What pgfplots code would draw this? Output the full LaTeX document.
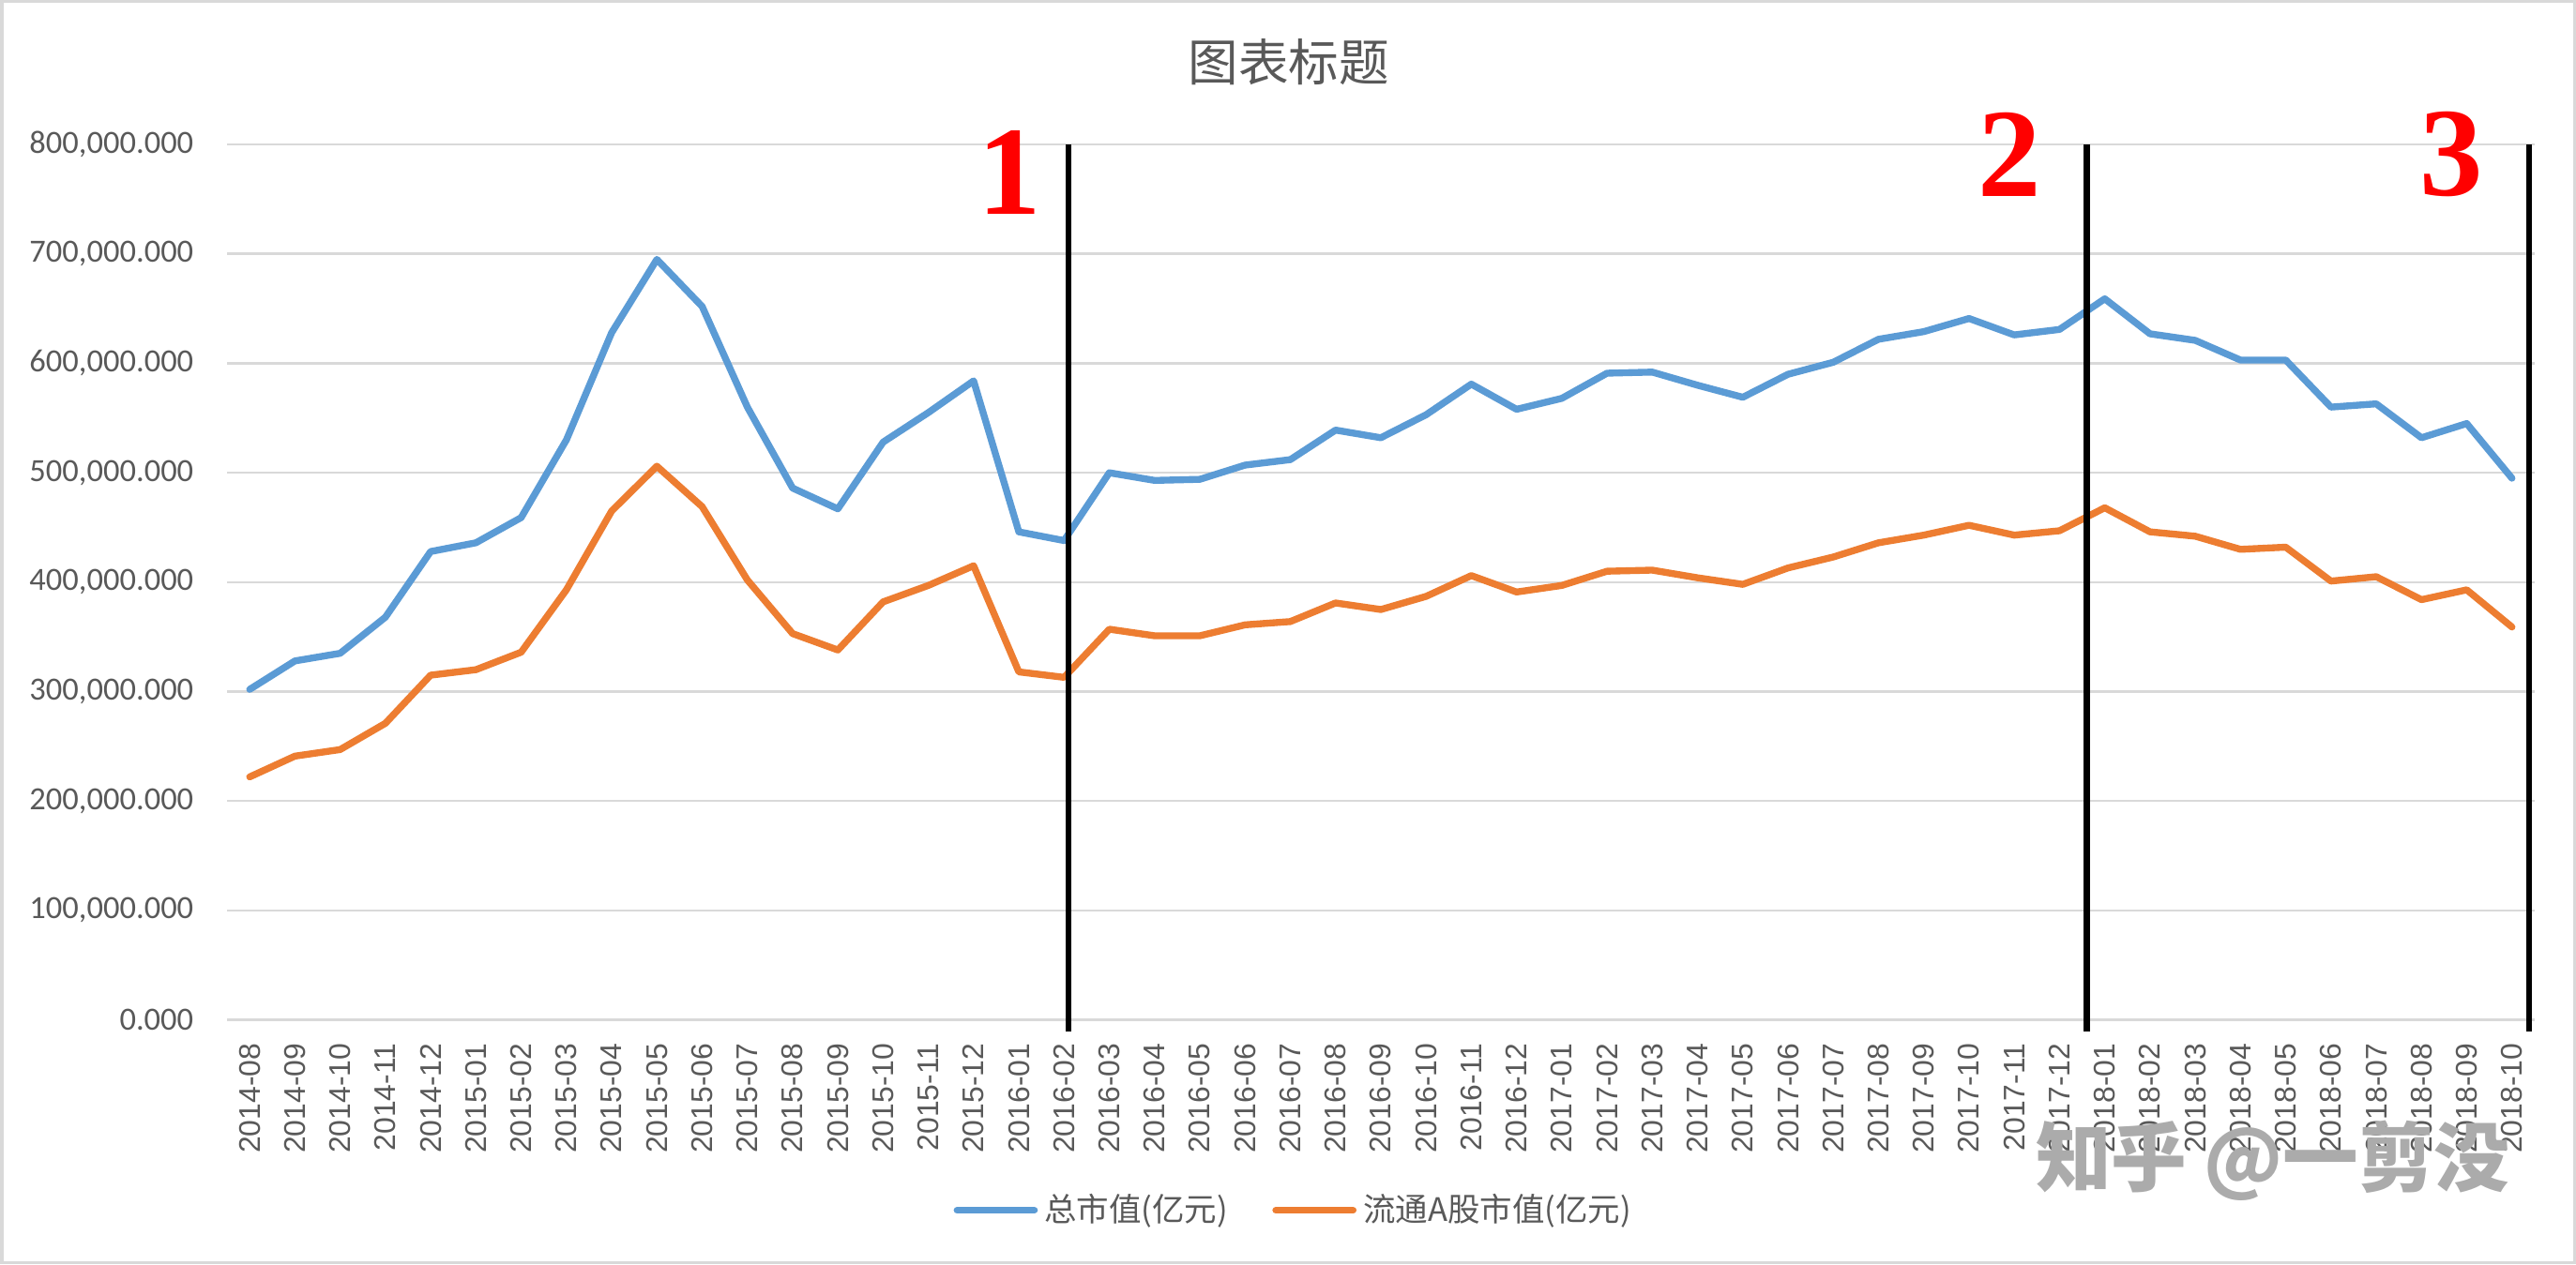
\documentclass[border=0pt]{standalone}
\usepackage{fontspec}
\setmainfont{Carlito}
\newfontfamily\cjk{Noto Sans CJK SC}
\newfontfamily\timesb{Liberation Serif}
\newfontfamily\arial{Liberation Sans}
\usepackage{pgfplots}
\usepackage{pgfplotstable}
\pgfplotsset{compat=1.18}
\definecolor{cblue}{HTML}{5B9BD5}
\definecolor{corange}{HTML}{ED7D31}
\definecolor{cgrid}{HTML}{D9D9D9}
\definecolor{ctext}{HTML}{595959}

\pgfplotstableread{
idx total float
0 302000 222000
1 328000 241000
2 335000 247000
3 368000 271000
4 428000 315000
5 436000 320000
6 459000 336000
7 530000 393000
8 628000 465000
9 695000 506000
10 652000 469000
11 560000 402000
12 486000 353000
13 467000 338000
14 528000 382000
15 555000 397000
16 584000 415000
17 446000 318000
18 438000 313000
19 500000 357000
20 493000 351000
21 494000 351000
22 507000 361000
23 512000 364000
24 539000 381000
25 532000 375000
26 553000 387000
27 581000 406000
28 558000 391000
29 568000 397000
30 591000 410000
31 592000 411000
32 580000 404000
33 569000 398000
34 590000 413000
35 601000 423000
36 622000 436000
37 629000 443000
38 641000 452000
39 626000 443000
40 631000 447000
41 659000 468000
42 627000 446000
43 621000 442000
44 603000 430000
45 603000 432000
46 560000 401000
47 563000 405000
48 532000 384000
49 545000 393000
50 495000 359000
}\datatable

\begin{document}
\begin{tikzpicture}
\useasboundingbox (0,0) rectangle (784pt,385pt);
\fill[white] (0,0) rectangle (784pt,385pt);
\draw[cgrid, line width=1pt] (0.5pt,0.5pt) rectangle (783.5pt,384.5pt);
\node[text=ctext, font=\cjk\fontsize{15.3}{18}\selectfont, inner sep=0pt] at (392.25pt,366pt) {图表标题};
\begin{axis}[
  at={(69.1pt,74.5pt)}, anchor=south west,
  scale only axis, width=702.3pt, height=266.5pt,
  xmin=-0.5, xmax=50.5, ymin=0, ymax=800000,
  clip=false,
  axis line style={draw=none},
  major tick length=0pt,
  ymajorgrids, grid style={cgrid, line width=0.75pt},
  ytick={0,100000,200000,300000,400000,500000,600000,700000,800000},
  scaled y ticks=false,
  yticklabel style={/pgf/number format/.cd, fixed, fixed zerofill, precision=3, 1000 sep={,}, assume math mode=true, /tikz/.cd, text=ctext, font=\fontsize{9.85}{11}\selectfont, xshift=-6.7pt},
  xtick={0,...,50},
  xticklabels={2014-08,2014-09,2014-10,2014-11,2014-12,2015-01,2015-02,2015-03,2015-04,2015-05,2015-06,2015-07,2015-08,2015-09,2015-10,2015-11,2015-12,2016-01,2016-02,2016-03,2016-04,2016-05,2016-06,2016-07,2016-08,2016-09,2016-10,2016-11,2016-12,2017-01,2017-02,2017-03,2017-04,2017-05,2017-06,2017-07,2017-08,2017-09,2017-10,2017-11,2017-12,2018-01,2018-02,2018-03,2018-04,2018-05,2018-06,2018-07,2018-08,2018-09,2018-10},
  xticklabel style={rotate=90, anchor=east, inner xsep=7pt, text=ctext, font=\arial\fontsize{9.1}{11}\selectfont},
  legend style={at={(0.3146,-0.2176)}, anchor=west, draw=none, fill=none, inner sep=0pt,
    legend columns=2, font=\cjk\fontsize{9.85}{11}\selectfont, text=ctext,
    /tikz/every even column/.append style={column sep=11.5pt}},
  legend image code/.code={\draw[#1, line cap=round] (0pt,0pt) -- (23.5pt,0pt);},
]
\addplot[cblue, line width=2.1pt, line join=round, line cap=round] table[x=idx,y=total]{\datatable};
\addlegendentry{总市值(亿元)}
\addplot[corange, line width=2.1pt, line join=round, line cap=round] table[x=idx,y=float]{\datatable};
\addlegendentry{流通A股市值(亿元)}
\draw[black, line width=1.9pt] (axis cs:18.1,800000) -- (axis cs:18.1,-10500);
\draw[black, line width=1.9pt] (axis cs:40.6,800000) -- (axis cs:40.6,-10500);
\draw[black, line width=1.9pt] (axis cs:50.38,800000) -- (axis cs:50.38,-10500);
\node[red, font=\timesb\bfseries\fontsize{38.5}{40}\selectfont, inner sep=0pt] at (axis cs:16.79,774500) {1};
\node[red, font=\timesb\bfseries\fontsize{38.5}{40}\selectfont, inner sep=0pt] at (axis cs:38.89,791000) {2};
\node[red, font=\timesb\bfseries\fontsize{38.5}{40}\selectfont, inner sep=0pt] at (axis cs:48.66,791000) {3};
\end{axis}
\node[text=black!33, font=\cjk\bfseries\fontsize{23}{26}\selectfont, inner sep=0pt] at (691.75pt,31.5pt) {知乎 @一剪没};
\end{tikzpicture}
\end{document}
